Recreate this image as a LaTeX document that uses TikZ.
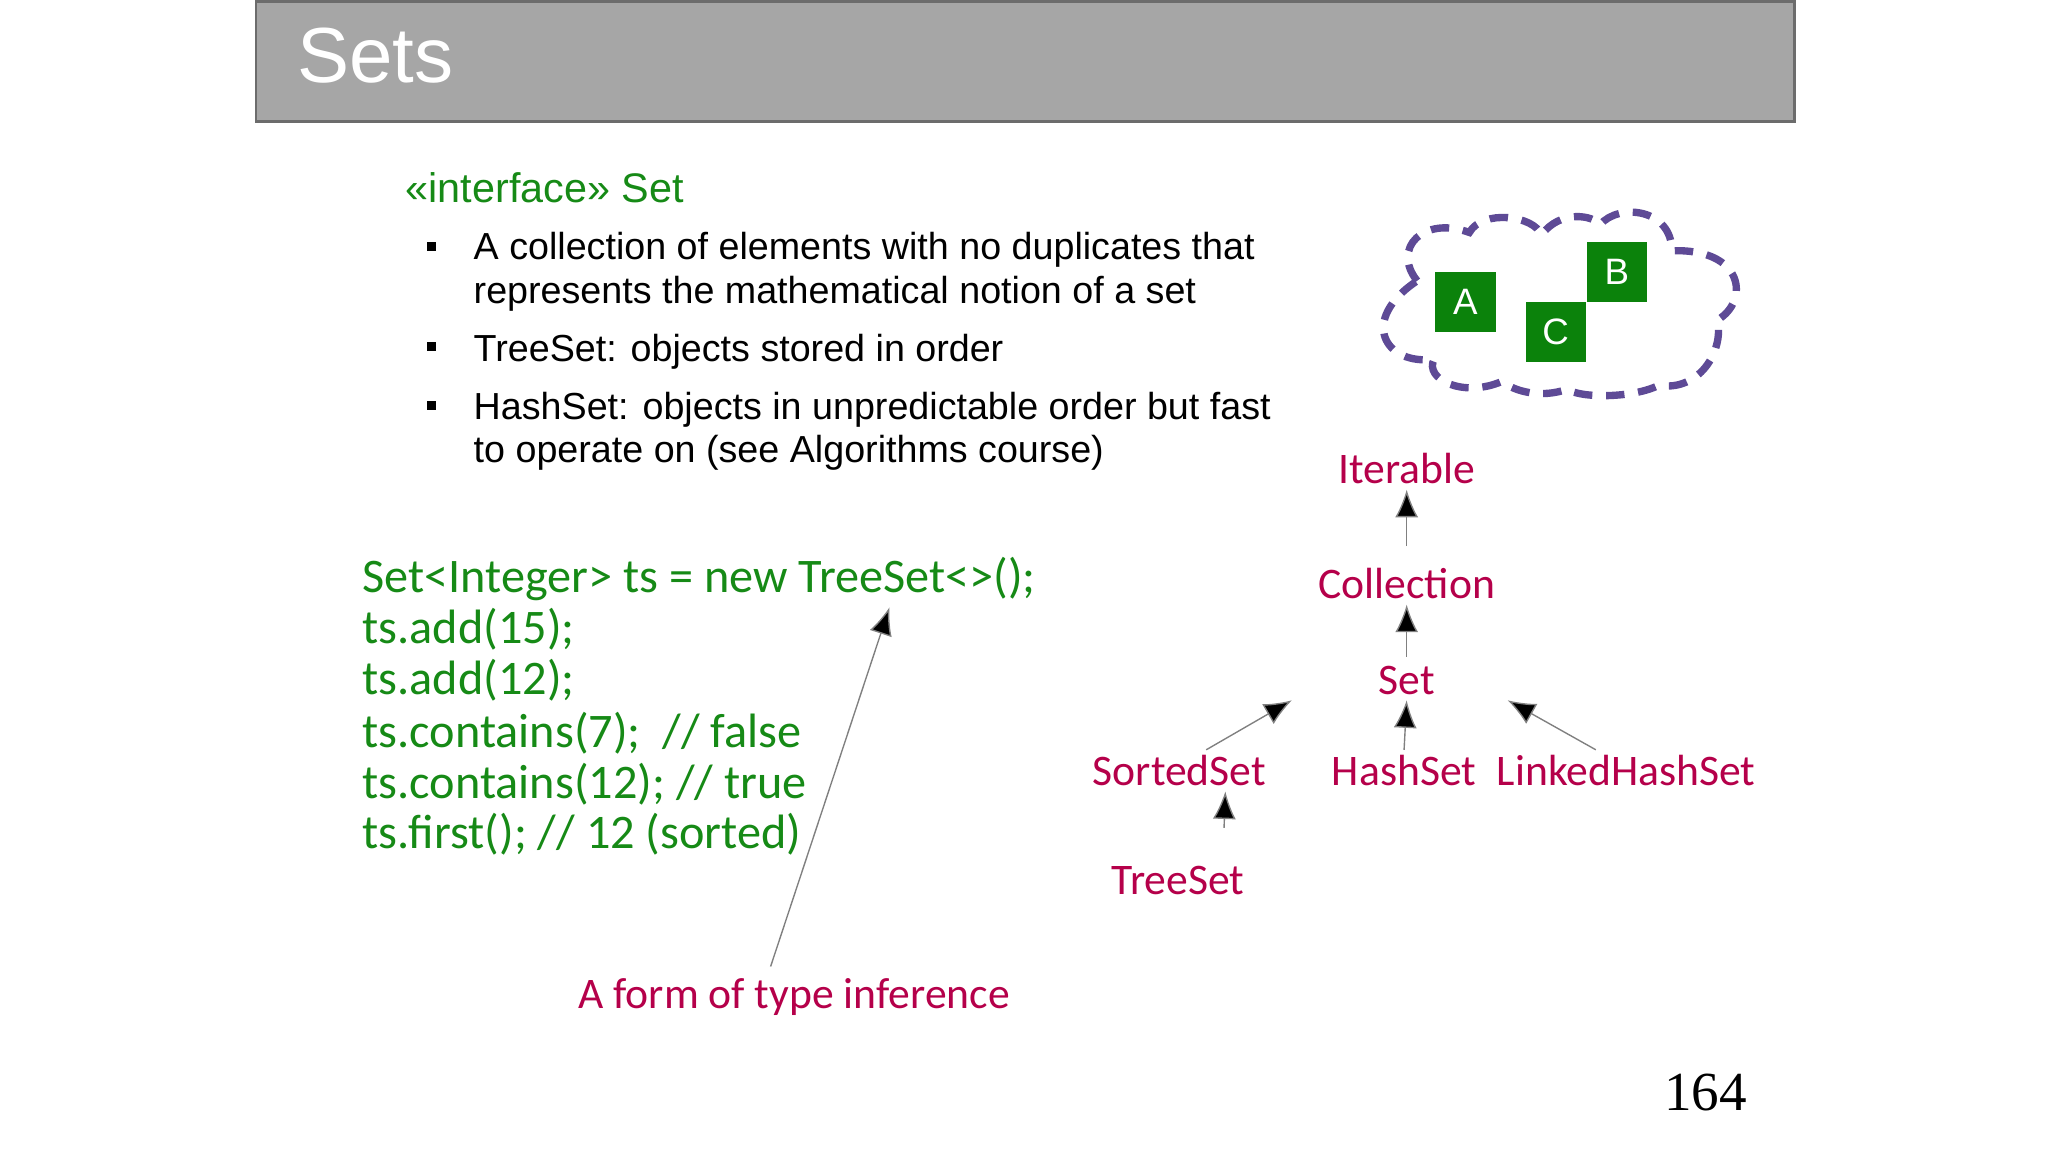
\documentclass[tikz,border=0pt]{standalone}
\usepackage{fontspec}
\setmainfont{Liberation Sans}
\newfontfamily\carl{Carlito}
\newfontfamily\serifnum{Liberation Serif}
\usetikzlibrary{arrows.meta}
\definecolor{gr}{HTML}{168A16}
\definecolor{rd}{HTML}{B5004A}
\definecolor{pur}{HTML}{5E4A96}
\definecolor{sq}{HTML}{0B820B}
\begin{document}
\begin{tikzpicture}[x=0.01cm,y=-0.01cm,
  lbl/.style={font=\carl\fontsize{9.5}{11}\selectfont,text=rd,inner sep=1pt},
  inh/.style={draw=gray,line width=0.3pt,-{Latex[length=6pt,width=5pt,fill=black]}},
  sqbox/.style={fill=sq,minimum size=0.46cm,inner sep=0,text=white,font=\fontsize{8}{9}\selectfont}]
\useasboundingbox (0,0) rectangle (1568,882);
\fill[white] (0,0) rectangle (1568,882);
\node[fill=gray!70,draw=gray!85!black,line width=0.6pt,minimum width=11.77cm,minimum height=0.92cm,anchor=north west,inner sep=0] (hdr) at (195,0) {};
\node[anchor=base west,text=white,font=\fontsize{17}{20}\selectfont,inner sep=0] (title) at (227,63) {Sets};
\node[anchor=base west,text=gr,font=\fontsize{9}{11}\selectfont,inner sep=0] (iface) at (310,155) {<<interface>> Set};
\begin{scope}[every node/.style={anchor=base west,font=\fontsize{8.2}{10}\selectfont,inner sep=0}]
\node (b1) at (362,199) {A collection of elements with no duplicates that};
\node (b1b) at (362,232) {represents the mathematical notion of a set};
\node (b2) at (362,277) {TreeSet: objects stored in order};
\node (b3) at (362,321) {HashSet: objects in unpredictable order but fast};
\node (b3b) at (362,354) {to operate on (see Algorithms course)};
\end{scope}
\foreach \y [count=\i] in {189,266,311} \fill (327,\y-4) rectangle +(7,7);
\begin{scope}[every node/.style={anchor=base west,font=\carl\fontsize{10.5}{12}\selectfont,text=gr,inner sep=0}]
\node (c1) at (277,454) {Set<Integer> ts = new TreeSet<>();};
\node (c2) at (277,493) {ts.add(15);};
\node (c3) at (277,532) {ts.add(12);};
\node (c4) at (277,572) {ts.contains(7);\ \ // false};
\node (c5) at (277,611) {ts.contains(12); // true};
\node (c6) at (277,650) {ts.first(); // 12 (sorted)};
\end{scope}
\node[lbl,anchor=base] (inf) at (608,772) {A form of type inference};
\coordinate (infs) at (590,740);
\coordinate (infe) at (681,465);
\draw[inh] (infs) -- (infe);
% cloud
\draw[pur,line width=1.6pt,dash pattern=on 4pt off 3pt]
 (1085,215) .. controls (1065,190) and (1090,165) .. (1125,178)
 .. controls (1135,160) and (1175,165) .. (1180,180)
 .. controls (1195,160) and (1220,165) .. (1225,172)
 .. controls (1240,155) and (1280,160) .. (1280,192)
 .. controls (1335,190) and (1340,230) .. (1315,245)
 .. controls (1320,270) and (1300,300) .. (1270,295)
 .. controls (1250,305) and (1210,305) .. (1200,298)
 .. controls (1180,305) and (1160,300) .. (1150,292)
 .. controls (1120,305) and (1090,290) .. (1098,275)
 .. controls (1060,280) and (1040,245) .. (1085,215) -- cycle;
\node[sqbox] (A) at (1122,231) {A};
\node[sqbox] (B) at (1238,208) {B};
\node[sqbox] (C) at (1191,254) {C};
% hierarchy
\node[lbl] (iter) at (1077,359) {Iterable};
\node[lbl] (coll) at (1077,447) {Collection};
\node[lbl] (set) at (1077,521) {Set};
\node[lbl] (sorted) at (903,590) {SortedSet};
\node[lbl] (hash) at (1075,590) {HashSet};
\node[lbl] (lhash) at (1245,590) {LinkedHashSet};
\node[lbl] (tree) at (902,674) {TreeSet};
\draw[inh] (coll.north) ++(0,-13) -- (iter.south);
\draw[inh] (set.north) ++(0,-3) -- (coll.south);
\draw[inh] (hash.north) -- (set.south);
\draw[inh] (sorted.north east) ++(-50,0) -- ([xshift=-25pt]set.south);
\draw[inh] (lhash.north west) ++(80,0) -- ([xshift=22pt]set.south);
\draw[inh] ([xshift=10]tree.north) ++(0,-25) -- ([xshift=10]sorted.south);
\node[anchor=base east,font=\serifnum\fontsize{12}{14}\selectfont,inner sep=0] (pg) at (1338,850) {164};
\end{tikzpicture}
\end{document}
